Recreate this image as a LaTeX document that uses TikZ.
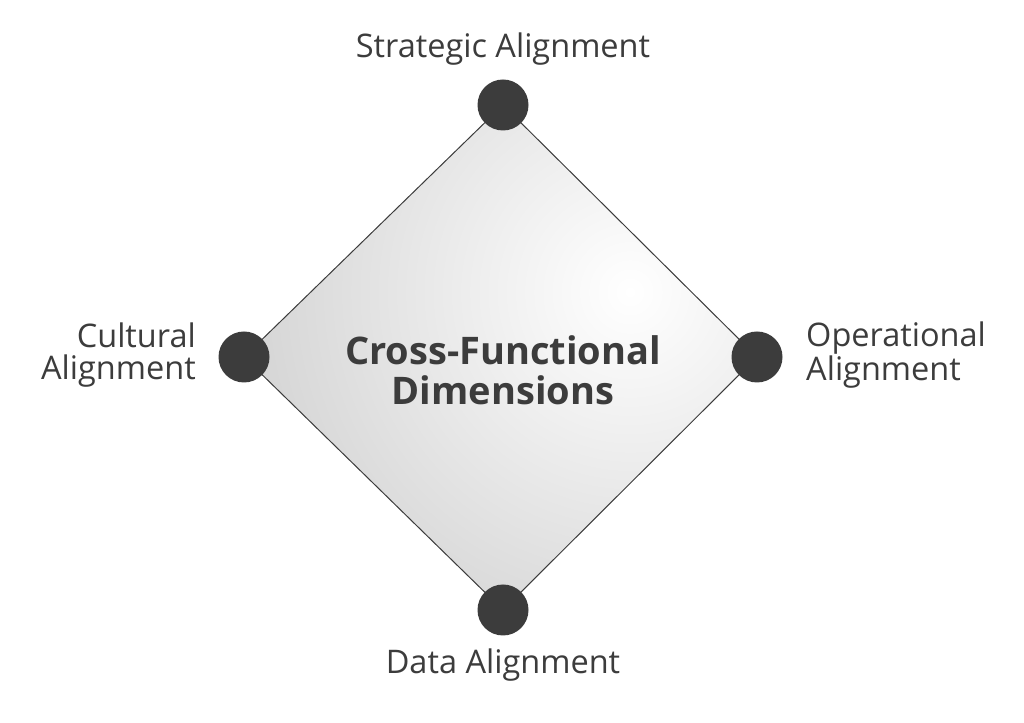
\documentclass[tikz,border=0pt]{standalone}
\usepackage{fontspec}
\setmainfont{Open Sans}
\definecolor{ink}{HTML}{3C3C3C}
\begin{document}
\begin{tikzpicture}[x=1pt,y=1pt,
  dot/.style={circle,fill=ink,minimum size=51pt,inner sep=0pt},
  lab/.style={text=ink,font=\fontsize{32.5}{32}\selectfont,inner sep=0pt}]
\useasboundingbox (0,0) rectangle (1024,722);
\coordinate (T) at (503,617);
\coordinate (L) at (244,365);
\coordinate (R) at (757,365);
\coordinate (B) at (503,112);
\begin{scope}
\clip (T)--(R)--(B)--(L)--cycle;
\shade[inner color=white,outer color=black!30] (630,430) circle (700);
\end{scope}
\draw[ink,line width=1pt] (T)--(R)--(B)--(L)--cycle;
\node[dot] (t) at (T) {};
\node[dot] (l) at (L) {};
\node[dot] (r) at (R) {};
\node[dot] (b) at (B) {};
\node[lab] (tl) at (503,673) {Strategic Alignment};
\node[lab] (bl) at (503,57) {Data Alignment};
\node[lab,anchor=east,align=right] (ll) at (196,367) {Cultural\\Alignment};
\node[lab,anchor=west,align=left] (rl) at (806,367) {Operational\\Alignment};
\node[text=ink,font=\bfseries\fontsize{38}{40}\selectfont,align=center] (c) at (503,352) {Cross-Functional\\Dimensions};
\end{tikzpicture}
\end{document}
